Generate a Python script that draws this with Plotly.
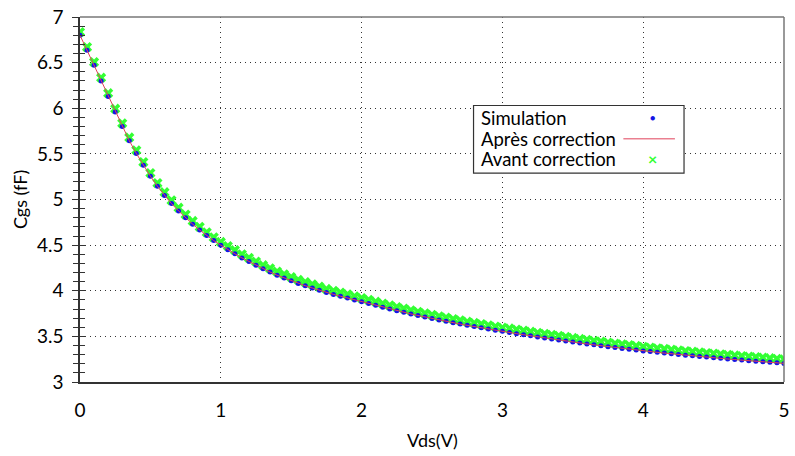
import plotly.graph_objects as go

vds = [round(i * 0.05, 2) for i in range(101)]

simulation = [
    6.80, 6.635, 6.47, 6.30, 6.13, 5.96, 5.80, 5.645, 5.505, 5.375,
    5.255, 5.145, 5.045, 4.955, 4.875, 4.80, 4.73, 4.665, 4.605, 4.55,
    4.50, 4.45, 4.405, 4.36, 4.32, 4.28, 4.24, 4.205, 4.17, 4.14,
    4.11, 4.08, 4.055, 4.03, 4.005, 3.98, 3.96, 3.94, 3.92, 3.90,
    3.88, 3.86, 3.84, 3.82, 3.80, 3.782, 3.764, 3.746, 3.729, 3.712,
    3.696, 3.68, 3.665, 3.65, 3.635, 3.621, 3.607, 3.594, 3.581, 3.568,
    3.555, 3.542, 3.530, 3.518, 3.506, 3.494, 3.482, 3.471, 3.460, 3.449,
    3.438, 3.427, 3.417, 3.407, 3.397, 3.387, 3.377, 3.368, 3.359, 3.350,
    3.341, 3.333, 3.325, 3.317, 3.309, 3.301, 3.294, 3.287, 3.280, 3.273,
    3.266, 3.259, 3.252, 3.246, 3.240, 3.234, 3.228, 3.222, 3.216, 3.210,
    3.204,
]

apres_correction = [
    6.80, 6.635, 6.47, 6.30, 6.13, 5.96, 5.80, 5.645, 5.505, 5.375,
    5.255, 5.145, 5.045, 4.955, 4.875, 4.80, 4.73, 4.665, 4.605, 4.55,
    4.50, 4.45, 4.405, 4.36, 4.32, 4.28, 4.24, 4.205, 4.17, 4.14,
    4.11, 4.08, 4.055, 4.03, 4.005, 3.98, 3.96, 3.94, 3.92, 3.90,
    3.88, 3.86, 3.84, 3.82, 3.80, 3.782, 3.764, 3.746, 3.729, 3.712,
    3.696, 3.68, 3.665, 3.65, 3.635, 3.621, 3.607, 3.594, 3.581, 3.568,
    3.555, 3.542, 3.530, 3.518, 3.506, 3.494, 3.482, 3.471, 3.460, 3.449,
    3.438, 3.427, 3.417, 3.407, 3.397, 3.387, 3.377, 3.368, 3.359, 3.350,
    3.341, 3.333, 3.325, 3.317, 3.309, 3.301, 3.294, 3.287, 3.280, 3.273,
    3.266, 3.259, 3.252, 3.246, 3.240, 3.234, 3.228, 3.222, 3.216, 3.210,
    3.204,
]

avant_correction = [
    6.835, 6.67, 6.505, 6.335, 6.165, 5.995, 5.835, 5.68, 5.54, 5.41,
    5.29, 5.18, 5.08, 4.99, 4.91, 4.835, 4.765, 4.70, 4.64, 4.585,
    4.535, 4.49, 4.445, 4.40, 4.36, 4.32, 4.28, 4.245, 4.21, 4.18,
    4.15, 4.12, 4.095, 4.07, 4.045, 4.02, 4.00, 3.98, 3.96, 3.94,
    3.92, 3.90, 3.88, 3.86, 3.84, 3.822, 3.804, 3.786, 3.769, 3.752,
    3.736, 3.72, 3.705, 3.69, 3.675, 3.661, 3.647, 3.634, 3.621, 3.608,
    3.595, 3.587, 3.575, 3.563, 3.551, 3.539, 3.527, 3.516, 3.505, 3.494,
    3.483, 3.472, 3.462, 3.452, 3.442, 3.432, 3.422, 3.413, 3.404, 3.395,
    3.386, 3.378, 3.370, 3.362, 3.354, 3.346, 3.339, 3.332, 3.325, 3.318,
    3.311, 3.304, 3.297, 3.291, 3.285, 3.279, 3.273, 3.267, 3.261, 3.255,
    3.249,
]

x_ticks = [0, 1, 2, 3, 4, 5]
y_ticks = [3, 3.5, 4, 4.5, 5, 5.5, 6, 6.5, 7]
y_tick_text = ["3", "3.5", "4", "4.5", "5", "5.5", "6", "6.5", "7"]

FONT = "Lato, 'Open Sans', sans-serif"
BLUE = "#1414e6"
RED = "#e0405a"
GREEN = "#33ff33"
GRID_DASH = "1px,4px"

fig = go.Figure()
fig.add_trace(go.Scatter(x=vds, y=avant_correction, mode="markers", name="Avant correction",
                         marker=dict(symbol="x", size=9, color=GREEN), showlegend=False))
fig.add_trace(go.Scatter(x=vds, y=simulation, mode="markers", name="Simulation",
                         marker=dict(symbol="circle", size=5, color=BLUE), showlegend=False))
fig.add_trace(go.Scatter(x=vds, y=apres_correction, mode="lines", name="Après correction",
                         line=dict(color=RED, width=1), showlegend=False))
# empty trace to attach the inner-tick overlay axis
fig.add_trace(go.Scatter(x=[], y=[], yaxis="y2", showlegend=False, hoverinfo="skip"))

fig.update_layout(
    width=795, height=456,
    margin=dict(l=80, r=5, t=15, b=74),
    paper_bgcolor="white", plot_bgcolor="white",
    font=dict(family=FONT, size=19, color="black"),
    showlegend=False,
    xaxis=dict(range=[0, 5], tickvals=x_ticks, ticktext=[str(v) for v in x_ticks],
               showgrid=True, gridcolor="#333", griddash=GRID_DASH, gridwidth=1,
               showline=True, linecolor="#333", linewidth=1.5,
               ticks="", ticklabelstandoff=10, zeroline=False,
               ticklabeloverflow="allow", tickfont=dict(size=19)),
    yaxis=dict(range=[3, 7], tickvals=y_ticks, ticktext=y_tick_text,
               showgrid=True, gridcolor="#333", griddash=GRID_DASH, gridwidth=1,
               showline=True, linecolor="#333", linewidth=1.5,
               ticks="outside", ticklen=6, tickcolor="#333", tickwidth=1,
               minor=dict(ticks="outside", dtick=0.1, ticklen=5, tickcolor="#333", showgrid=False),
               ticklabelstandoff=5, zeroline=False, ticklabeloverflow="allow",
               tickfont=dict(size=19)),
    yaxis2=dict(range=[3, 7], overlaying="y", side="left", anchor="x",
                showticklabels=False, showgrid=False, showline=False, zeroline=False,
                tickvals=y_ticks, ticks="inside", ticklen=6, tickcolor="#333", tickwidth=1,
                minor=dict(ticks="inside", dtick=0.1, ticklen=5, tickcolor="#333", showgrid=False)),
)

# top and right frame
fig.add_shape(type="line", xref="paper", yref="paper", x0=0, x1=1, y0=1, y1=1,
              line=dict(color="#777", width=1.5))
fig.add_shape(type="line", xref="paper", yref="paper", x0=1, x1=1, y0=0, y1=1,
              line=dict(color="#777", width=1.5))

# axis titles
fig.add_annotation(text="Vds(V)", xref="paper", yref="paper", x=0.5, y=1 - (440 - 15) / 367,
                   showarrow=False, xanchor="center", yanchor="middle", font=dict(size=18))
fig.add_annotation(text="Cgs (fF)", xref="paper", yref="paper", x=(19 - 80) / 710, y=0.5,
                   textangle=-90, showarrow=False, xanchor="center", yanchor="middle",
                   font=dict(size=18))

# custom legend (text left, symbol right)
fig.add_shape(type="rect", xref="paper", yref="paper", x0=0.559, x1=0.858, y0=0.572, y1=0.7575,
              line=dict(color="#333", width=1.2), fillcolor="white", layer="above")
legend_items = [("Simulation", 116.5), ("Après correction", 137.5), ("Avant correction", 158)]
for label, ypx in legend_items:
    fig.add_annotation(text=label, xref="paper", yref="paper", x=(482 - 80) / 710,
                       y=1 - (ypx - 15) / 367, xanchor="left", yanchor="middle",
                       showarrow=False, font=dict(size=18.5))
fig.add_annotation(text="●", xref="paper", yref="paper", x=(657 - 80) / 710, y=1 - (116.5 - 15) / 367,
                   xanchor="center", yanchor="middle", showarrow=False, font=dict(size=9, color=BLUE))
fig.add_shape(type="line", xref="paper", yref="paper", x0=(628 - 80) / 710, x1=(680 - 80) / 710,
              y0=1 - (137.5 - 15) / 367, y1=1 - (137.5 - 15) / 367, line=dict(color=RED, width=1),
              layer="above")
fig.add_annotation(text="<b>×</b>", xref="paper", yref="paper", x=(657 - 80) / 710, y=1 - (157.5 - 15) / 367,
                   xanchor="center", yanchor="middle", showarrow=False, font=dict(size=16, color=GREEN))

fig.write_html("out.html",
               config={"displayModeBar": False},
               post_script="document.body.style.margin='0';document.body.style.overflow='hidden';")
